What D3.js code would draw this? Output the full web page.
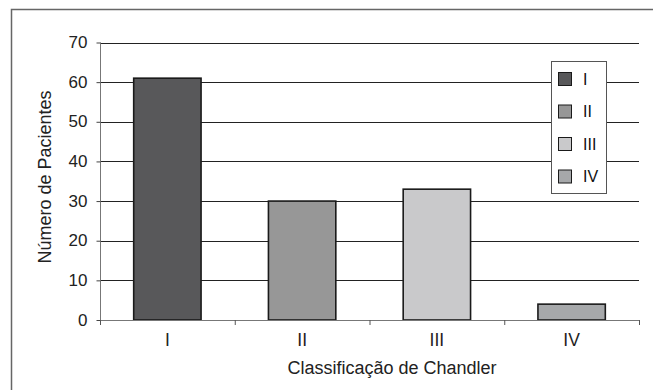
<!DOCTYPE html>
<html><head><meta charset="utf-8">
<script src="https://cdn.jsdelivr.net/npm/d3@7"></script>
<style>body{margin:0;background:#fff}svg{display:block}text{font-family:Arial,"Liberation Sans",sans-serif}</style>
</head><body>
<svg id="c" width="653" height="390"></svg>
<script>
const categories = ["I","II","III","IV"];
const values = [61, 30, 33, 4];
const colors = ["#58585a","#979797","#c9c9cb","#a6a8aa"];
const yTicks = [0,10,20,30,40,50,60,70];

const svg = d3.select("#c");
const m = {l:100, r:639, t:42.5, b:320};
svg.append("rect").attr("x",11.5).attr("y",9.5).attr("width",700).attr("height",500)
  .attr("fill","none").attr("stroke","#666").attr("stroke-width",1.5);

const x = d3.scaleBand().domain(categories).range([m.l,m.r]).paddingInner(0.5).paddingOuter(0.25);
const xb = d3.scaleBand().domain(categories).range([m.l,m.r]);
const y = d3.scaleLinear().domain([0,70]).range([m.b,m.t]);

// gridlines
svg.append("g").selectAll("line").data(yTicks.filter(d=>d>0)).join("line")
  .attr("x1",m.l).attr("x2",m.r).attr("y1",d=>Math.round(y(d))+0.5).attr("y2",d=>Math.round(y(d))+0.5)
  .attr("stroke","#222").attr("stroke-width",1);

// y axis
const ya = svg.append("g").attr("transform",`translate(${m.l+0.5},0)`)
  .call(d3.axisLeft(y).tickValues(yTicks).tickSize(4).tickPadding(9));
ya.select(".domain").attr("stroke","#777").attr("d",`M0,${m.t}V${m.b+4}`);
ya.selectAll(".tick line").attr("stroke","#444");
ya.selectAll("text").attr("font-size",17).attr("fill","#222").attr("dy","0.3em");

// bars
svg.append("g").selectAll("rect").data(values).join("rect")
  .attr("x",(d,i)=>x(categories[i])).attr("width",x.bandwidth())
  .attr("y",d=>y(d)).attr("height",d=>y(0)-y(d))
  .attr("fill",(d,i)=>colors[i]).attr("stroke","#1a1a1a").attr("stroke-width",1.6);

// x axis
const xa = svg.append("g").attr("transform",`translate(0,${m.b+0.5})`)
  .call(d3.axisBottom(xb).tickSize(0).tickPadding(0));
xa.select(".domain").attr("stroke","#777").attr("d",`M${m.l},0H${m.r}`);
xa.selectAll("text").attr("font-size",17.5).attr("fill","#222").attr("dy",null).attr("y",25.5);
svg.append("g").selectAll("line").data(d3.range(categories.length+1)).join("line")
  .attr("x1",i=>m.l+i*xb.step()+0.5).attr("x2",i=>m.l+i*xb.step()+0.5)
  .attr("y1",m.b).attr("y2",m.b+5).attr("stroke","#555");

// axis titles
svg.append("text").attr("x",392).attr("y",374).attr("text-anchor","middle")
  .attr("font-size",18).attr("fill","#222").text("Classificação de Chandler");
svg.append("text").attr("transform","translate(51,177) rotate(-90)").attr("text-anchor","middle")
  .attr("font-size",18).attr("fill","#222").text("Número de Pacientes");

// legend
const lg = svg.append("g");
lg.append("rect").attr("x",551.5).attr("y",61.5).attr("width",55).attr("height",132)
  .attr("fill","#fff").attr("stroke","#555").attr("stroke-width",1);
categories.forEach((c,i)=>{
  const yy = 72.5 + i*32.5;
  lg.append("rect").attr("x",558.5).attr("y",yy).attr("width",13).attr("height",13)
    .attr("fill",colors[i]).attr("stroke","#1a1a1a").attr("stroke-width",1);
  lg.append("text").attr("x",583).attr("y",yy+12).attr("font-size",16).attr("fill","#111").text(c);
});
</script>
</body></html>
